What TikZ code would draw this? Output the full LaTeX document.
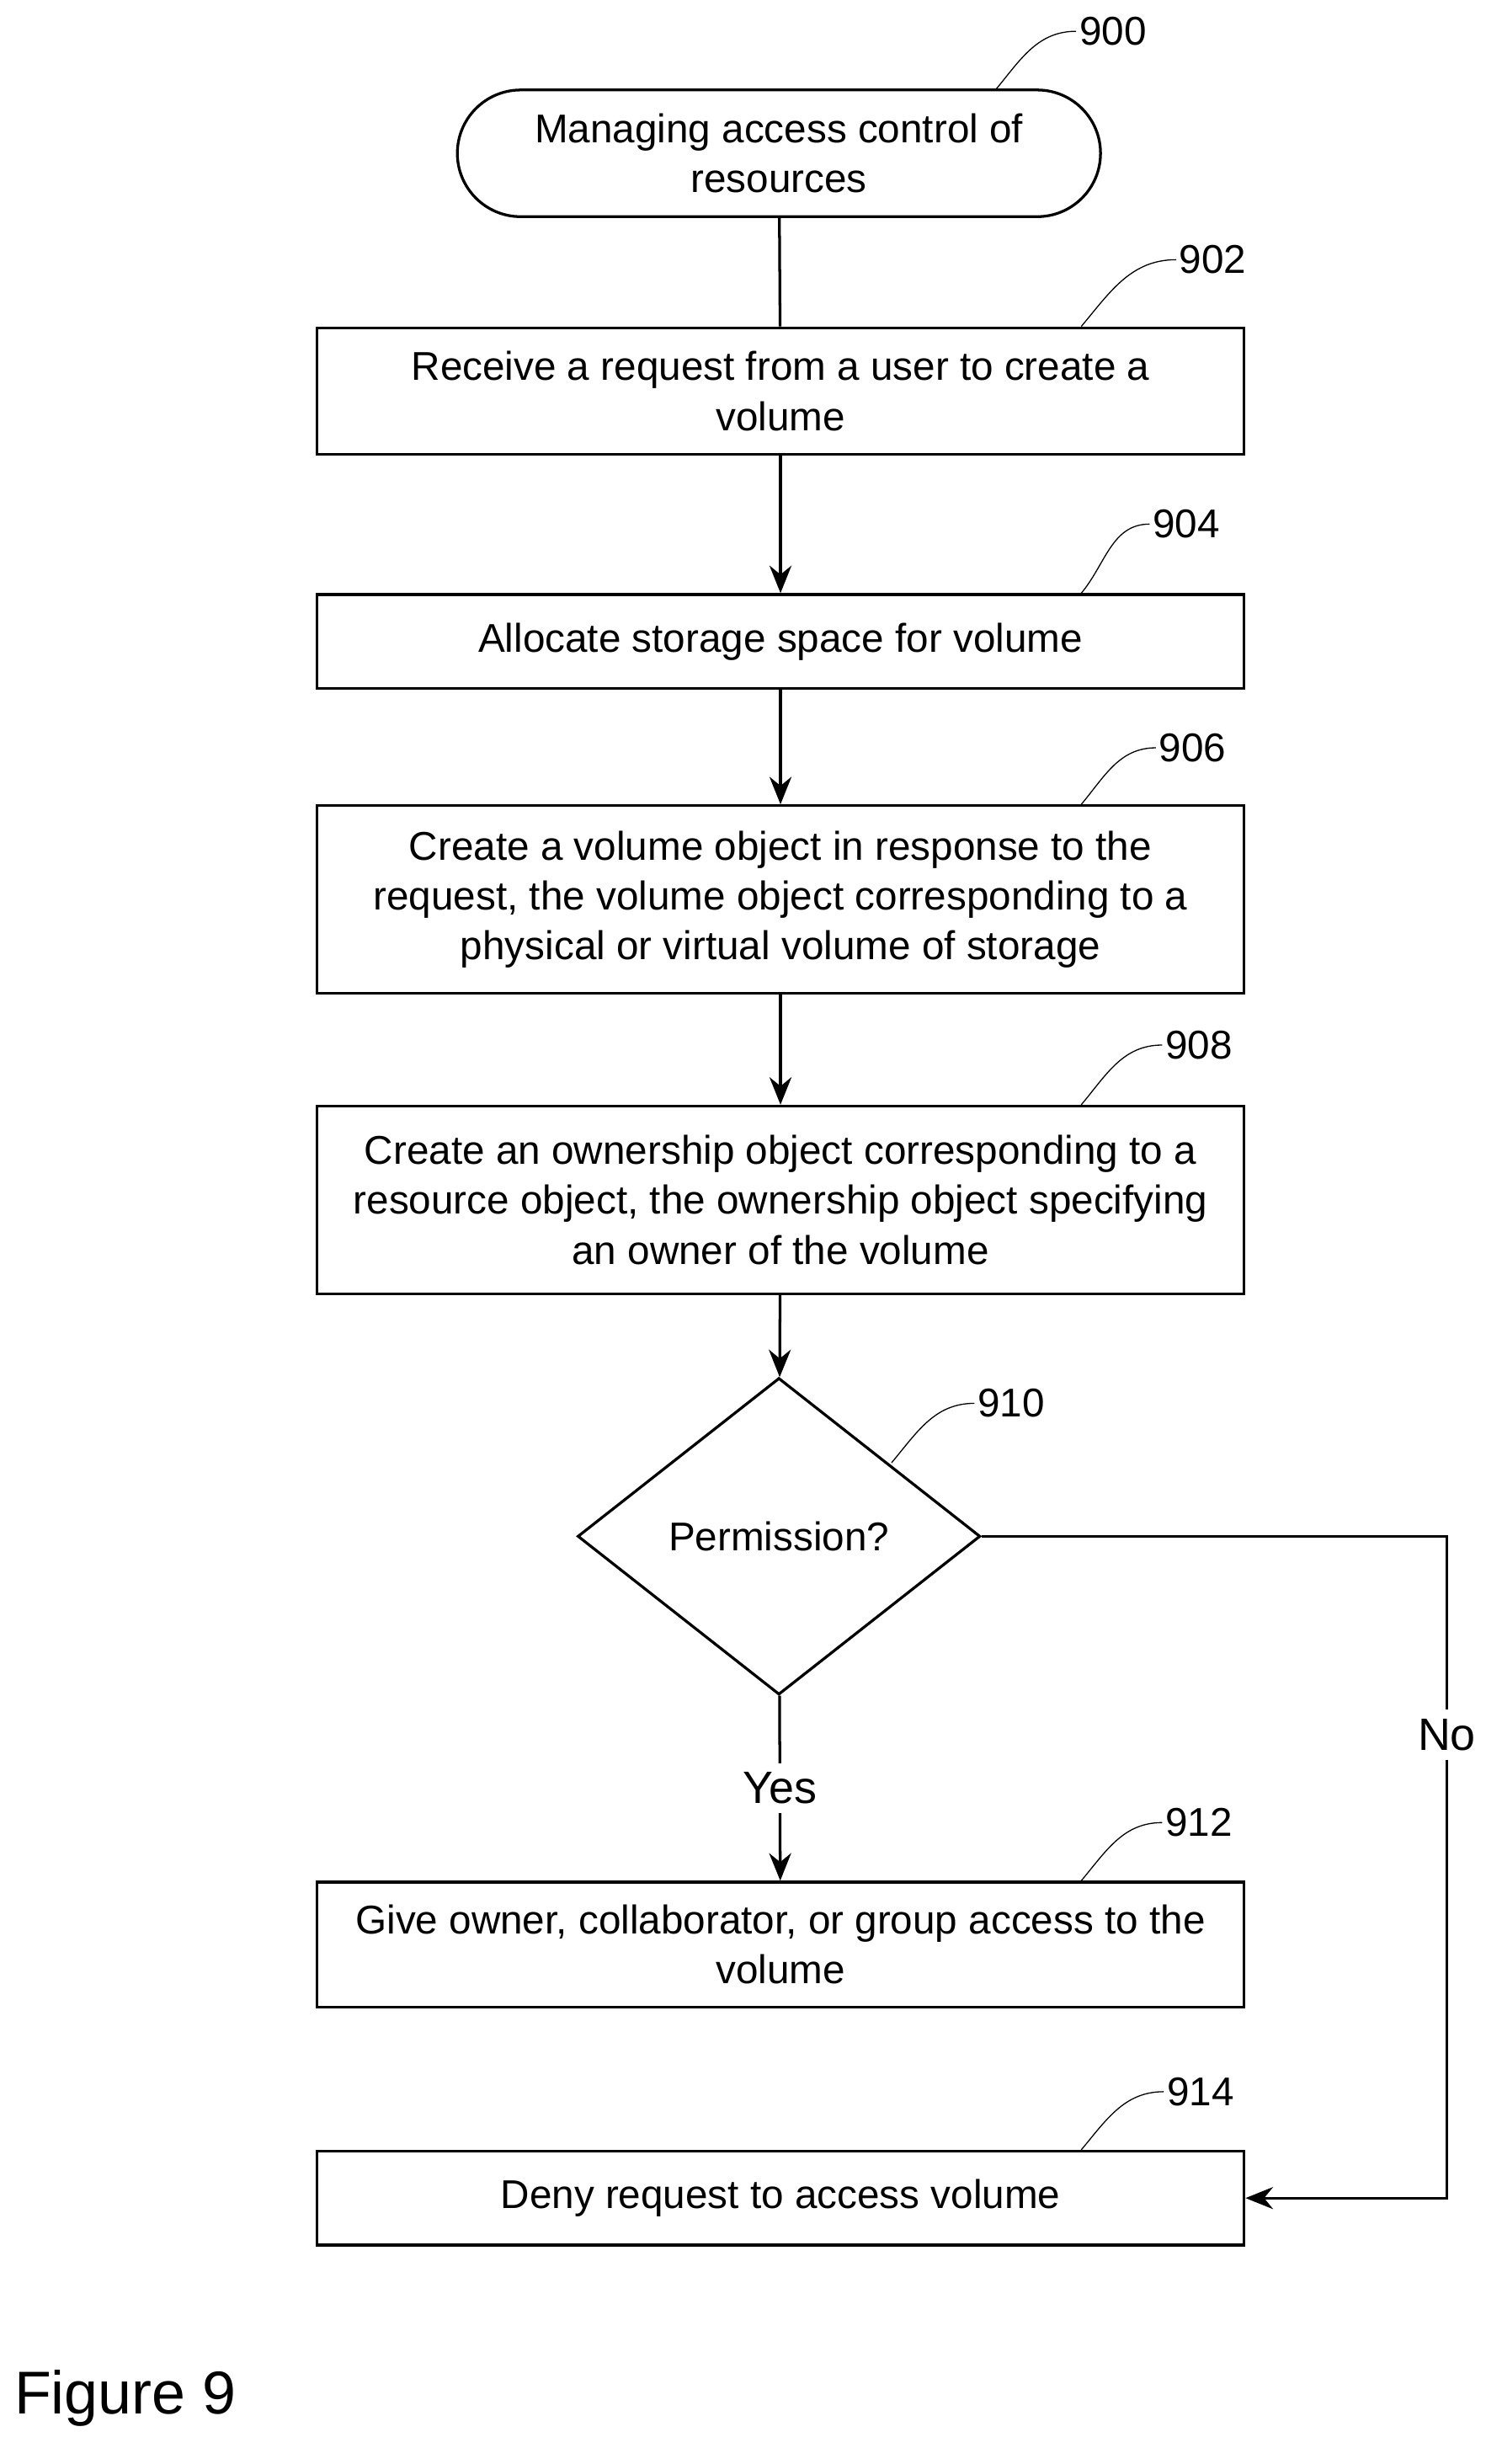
\documentclass[tikz,border=0pt]{standalone}
\usepackage{fontspec}
\setmainfont{Liberation Sans}
\usetikzlibrary{shapes.geometric,shapes.misc,positioning,arrows.meta}

\tikzset{
  stepbox/.style={draw,line width=1pt,minimum width=11.86cm,align=center,inner sep=2pt,
    font=\fontsize{14.6}{18.2}\selectfont},
  term/.style={draw,line width=1pt,rounded rectangle,minimum width=8.46cm,minimum height=1.62cm,
    align=center,font=\fontsize{14.6}{18.2}\selectfont},
  ask/.style={draw,line width=1pt,diamond,minimum width=5.15cm,minimum height=4.05cm,inner sep=0pt,
    font=\fontsize{14.6}{18.2}\selectfont},
  flow/.style={-{Stealth[length=10pt,width=8pt]},line width=1pt},
  refno/.style={font=\fontsize{14.6}{18.2}\selectfont,anchor=west,inner sep=1pt},
  lead/.style={thin}
}

\begin{document}
\begin{tikzpicture}[x=0.02cm,y=-0.02cm]
\useasboundingbox (0,0) rectangle (960,1575);

\node[term] (start) at (498,98) {Managing access control of\\resources};
\node[stepbox,minimum height=1.62cm] (recv) at (499,250) {Receive a request from a user to create a\\volume};
\node[stepbox,minimum height=1.2cm] (alloc) at (499,410) {Allocate storage space for volume};
\node[stepbox,minimum height=2.4cm] (vobj) at (499,575) {Create a volume object in response to the\\request, the volume object corresponding to a\\physical or virtual volume of storage};
\node[stepbox,minimum height=2.4cm] (own) at (499,767) {Create an ownership object corresponding to a\\resource object, the ownership object specifying\\an owner of the volume};
\node[ask] (perm) at (498,982) {Permission?};
\node[stepbox,minimum height=1.6cm] (give) at (499,1243) {Give owner, collaborator, or group access to the\\volume};
\node[stepbox,minimum height=1.2cm] (deny) at (499,1405) {Deny request to access volume};

% connectors
\draw[line width=1pt] (start) -- (recv);
\draw[flow] (recv) -- (alloc);
\draw[flow] (alloc) -- (vobj);
\draw[flow] (vobj) -- (own);
\draw[flow] (own) -- (perm);
\draw[flow] (perm) -- node[fill=white,font=\fontsize{16.5}{20}\selectfont] (yes) {Yes} (give);
\coordinate (bend) at (925,982);
\draw[flow] (perm.east) -- (bend) -- node[pos=0.3,fill=white,font=\fontsize{16.5}{20}\selectfont] (no) {No} (bend |- deny) -- (deny.east);

% reference numbers
\node[refno] (n900) at (688,20) {900};
\draw[lead] (636,58) to[out=50,in=180] (n900.west);
\node[refno] (n902) at (752,166) {902};
\draw[lead] (recv.north east) ++(-105,0) to[out=50,in=180] (n902.west);
\node[refno] (n904) at (735,335) {904};
\draw[lead] (alloc.north east) ++(-105,0) to[out=50,in=180] (n904.west);
\node[refno] (n906) at (739,478) {906};
\draw[lead] (vobj.north east) ++(-105,0) to[out=50,in=180] (n906.west);
\node[refno] (n908) at (743,668) {908};
\draw[lead] (own.north east) ++(-105,0) to[out=50,in=180] (n908.west);
\node[refno] (n910) at (623,897) {910};
\draw[lead] (570,935) to[out=50,in=180] (n910.west);
\node[refno] (n912) at (743,1165) {912};
\draw[lead] (give.north east) ++(-105,0) to[out=50,in=180] (n912.west);
\node[refno] (n914) at (744,1337) {914};
\draw[lead] (deny.north east) ++(-105,0) to[out=50,in=180] (n914.west);

\node[font=\fontsize{22}{26}\selectfont,anchor=west] (fig) at (3,1533) {Figure 9};
\end{tikzpicture}
\end{document}
